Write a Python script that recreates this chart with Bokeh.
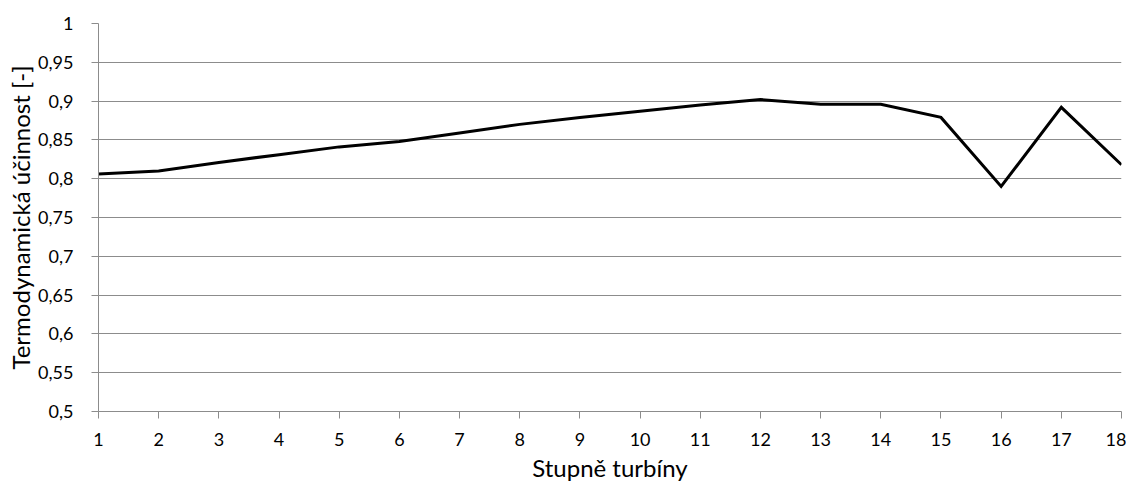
from bokeh.plotting import figure
from bokeh.models import FixedTicker, CustomJSTickFormatter, Range1d
from bokeh.embed import file_html
from bokeh.resources import INLINE

stages = list(range(1, 19))
efficiency = [0.806, 0.810, 0.821, 0.831, 0.841, 0.848, 0.859, 0.870, 0.879,
              0.887, 0.895, 0.902, 0.896, 0.896, 0.879, 0.790, 0.892, 0.818]
y_ticks = [0.5, 0.55, 0.6, 0.65, 0.7, 0.75, 0.8, 0.85, 0.9, 0.95, 1.0]

FONT = "Lato"
GRID = "#8c8c8c"

p = figure(width=1126, height=485, output_backend="svg", toolbar_location=None,
           x_range=Range1d(1, 18), y_range=Range1d(0.5, 1.0),
           min_border_left=98, min_border_right=5, min_border_top=23, min_border_bottom=74)
p.outline_line_color = None
p.background_fill_color = "white"
p.border_fill_color = "white"

p.line(stages, efficiency, line_color="black", line_width=3, line_join="miter")

p.xaxis.ticker = FixedTicker(ticks=stages)
p.yaxis.ticker = FixedTicker(ticks=y_ticks)
p.yaxis.formatter = CustomJSTickFormatter(code="""
var s = tick.toFixed(2).replace(/0+$/, '').replace(/\\.$/, '');
return s.replace('.', ',');
""")

for ax in (p.xaxis[0], p.yaxis[0]):
    ax.axis_line_color = GRID
    ax.major_tick_line_color = GRID
    ax.major_tick_in = 0
    ax.major_tick_out = 7
    ax.minor_tick_line_color = None
    ax.major_label_text_font = FONT
    ax.major_label_text_font_size = "18px"
    ax.major_label_text_color = "black"
    ax.axis_label_text_font = FONT
    ax.axis_label_text_font_size = "24px"
    ax.axis_label_text_font_style = "normal"
    ax.axis_label_text_color = "black"

p.xaxis.axis_label = "Stupně turbíny"
p.yaxis.axis_label = "Termodynamická účinnost [-]"
p.xaxis.major_label_standoff = 14
p.yaxis.major_label_standoff = 18
p.xaxis.axis_label_standoff = 4
p.yaxis.axis_label_standoff = 0

p.xgrid.grid_line_color = None
p.ygrid.grid_line_color = GRID
p.ygrid.grid_line_width = 1

open("out.html", "w").write(file_html(p, INLINE))
